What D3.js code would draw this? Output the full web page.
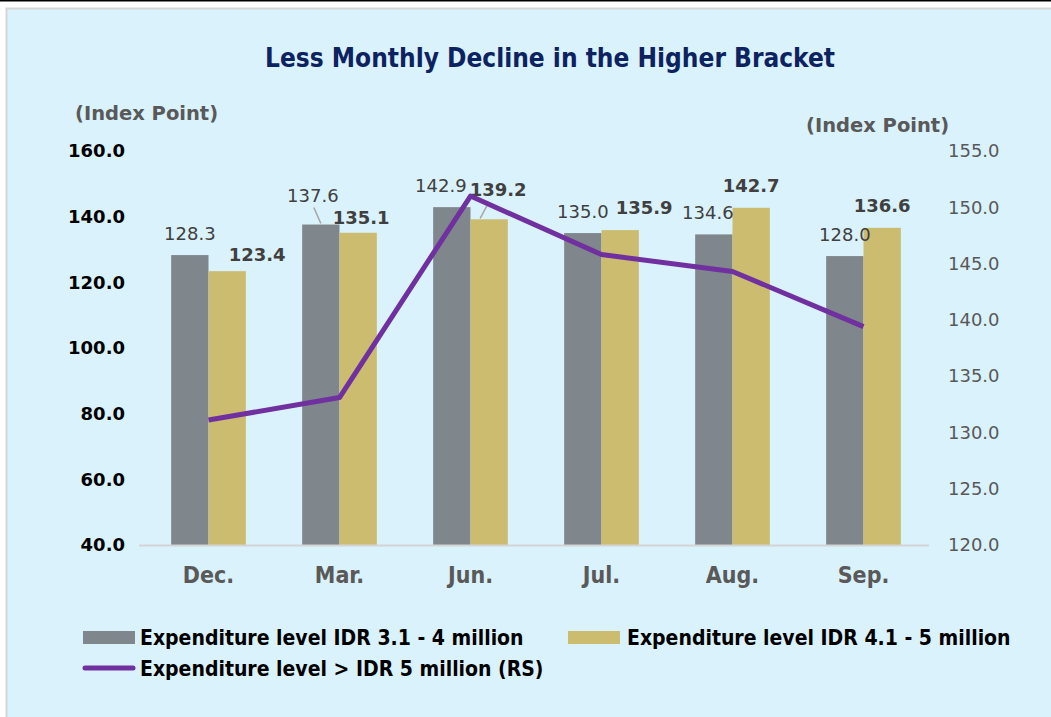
<!DOCTYPE html>
<html>
<head>
<meta charset="utf-8">
<script src="https://cdn.jsdelivr.net/npm/d3@7"></script>
<style>
  body { margin: 0; background: #fff; }
  text { font-family: "DejaVu Sans", Verdana, sans-serif; }
  .cond { font-family: "DejaVu Sans Condensed", "DejaVu Sans", sans-serif; font-stretch: condensed; }
</style>
</head>
<body>
<script>
// chart data
const months = ["Dec.", "Mar.", "Jun.", "Jul.", "Aug.", "Sep."];
const low = [128.3, 137.6, 142.9, 135.0, 134.6, 128.0];   // IDR 3.1 - 4 million
const mid = [123.4, 135.1, 139.2, 135.9, 142.7, 136.6];   // IDR 4.1 - 5 million
const high = [131.1, 133.1, 151.0, 145.8, 144.3, 139.4];  // > IDR 5 million (RS)
const leftTicks = [40, 60, 80, 100, 120, 140, 160];
const rightTicks = [120, 125, 130, 135, 140, 145, 150, 155];

// label nudges (dx, dy) copied from the manual placement in the original
const lowNudge = [[0, 0], [-8, -8], [-11, 0], [0, 0], [-6, 0], [0, 0]];
const midNudge = [[30, 6], [3, 7], [9, -7], [24, 0], [0, 0], [0, 0]];
const leaders = [false, true, false, false, false, false];
const midLeaders = [false, false, true, false, false, false];

const W = 1051, H = 717;
let margin = {top: 151, right: 122, bottom: 172, left: 143},
    width = W - margin.left - margin.right,
    height = H - margin.top - margin.bottom;

let svg = d3.select("body").append("svg")
    .attr("width", W)
    .attr("height", H);

// frame
svg.append("rect").attr("x", 0).attr("y", 0).attr("width", W).attr("height", 1.5).attr("fill", "#000");
svg.append("rect").attr("x", 6.5).attr("y", 8.5).attr("width", W).attr("height", H)
    .attr("fill", "#DAF2FC").attr("stroke", "#D6D6D6").attr("stroke-width", 2);

svg.append("text")
    .attr("class", "cond")
    .attr("x", 550).attr("y", 67)
    .attr("text-anchor", "middle")
    .attr("font-size", 26).attr("font-weight", "bold")
    .attr("fill", "#0D2260")
    .text("Less Monthly Decline in the Higher Bracket");

let g = svg.append("g").attr("transform", `translate(${margin.left},${margin.top})`);

let x0 = d3.scaleBand().domain(months).range([0, width]).paddingInner(0.43).paddingOuter(0.215);
let x1 = d3.scaleBand().domain(["low", "mid"]).range([0, x0.bandwidth()]);
let yL = d3.scaleLinear().domain([40, 160]).range([height, 0]);
let yR = d3.scaleLinear().domain([120, 155]).range([height, 0]);

// left axis
let axL = g.append("g").call(d3.axisLeft(yL).tickValues(leftTicks).tickFormat(d3.format(".1f")).tickSize(0).tickPadding(18));
axL.select(".domain").remove();
axL.selectAll("text").attr("font-size", 18).attr("font-weight", "bold").attr("fill", "#000")
    .attr("font-family", "DejaVu Sans, Verdana, sans-serif");

// right axis
let axR = g.append("g").attr("transform", `translate(${width},0)`)
    .call(d3.axisRight(yR).tickValues(rightTicks).tickFormat(d3.format(".1f")).tickSize(0).tickPadding(19));
axR.select(".domain").remove();
axR.selectAll("text").attr("font-size", 18).attr("fill", "#595959")
    .attr("font-family", "DejaVu Sans, Verdana, sans-serif");

// axis titles
svg.append("text").attr("x", 75).attr("y", 120).attr("font-size", 19.5).attr("font-weight", "bold")
    .attr("fill", "#595959").text("(Index Point)");
svg.append("text").attr("x", 806).attr("y", 132).attr("font-size", 19.5).attr("font-weight", "bold")
    .attr("fill", "#595959").text("(Index Point)");

// bars
let groups = g.selectAll(".grp").data(months).enter().append("g")
    .attr("transform", d => `translate(${x0(d)},0)`);

groups.append("rect")
    .attr("x", x1("low")).attr("width", x1.bandwidth())
    .attr("y", (d, i) => yL(low[i])).attr("height", (d, i) => height - yL(low[i]))
    .attr("fill", "#7F868C");
groups.append("rect")
    .attr("x", x1("mid")).attr("width", x1.bandwidth())
    .attr("y", (d, i) => yL(mid[i])).attr("height", (d, i) => height - yL(mid[i]))
    .attr("fill", "#CBBC6F");

// baseline
g.append("line").attr("x1", -4).attr("x2", width).attr("y1", height + 0.5).attr("y2", height + 0.5)
    .attr("stroke", "#D4D4D4").attr("stroke-width", 2);

// category labels
g.selectAll(".cat").data(months).enter().append("text")
    .attr("class", "cond")
    .attr("x", d => x0(d) + x0.bandwidth() / 2)
    .attr("y", height + 38)
    .attr("text-anchor", "middle")
    .attr("font-size", 23).attr("font-weight", "bold").attr("fill", "#595959")
    .text(d => d);

// leader lines
groups.filter((d, i) => leaders[i]).append("line")
    .attr("x1", (d) => x1("low") + x1.bandwidth() / 2 - 7)
    .attr("x2", (d) => x1("low") + x1.bandwidth() / 2)
    .attr("y1", d => yL(low[months.indexOf(d)]) - 17)
    .attr("y2", d => yL(low[months.indexOf(d)]) - 1)
    .attr("stroke", "#A6A6A6").attr("stroke-width", 1.5);
groups.filter((d, i) => midLeaders[i]).append("line")
    .attr("x1", (d) => x1("mid") + x1.bandwidth() / 2 - 9)
    .attr("x2", (d) => x1("mid") + x1.bandwidth() / 2 - 1)
    .attr("y1", d => yL(mid[months.indexOf(d)]) - 1)
    .attr("y2", d => yL(mid[months.indexOf(d)]) - 16)
    .attr("stroke", "#A6A6A6").attr("stroke-width", 1.5);

// line series
let line = d3.line()
    .x((d, i) => x0(months[i]) + x0.bandwidth() / 2)
    .y(d => yR(d));
g.append("path").datum(high)
    .attr("d", line)
    .attr("fill", "none").attr("stroke", "#7030A0").attr("stroke-width", 5)
    .attr("stroke-linejoin", "round");

// value labels
groups.append("text")
    .attr("x", (d, i) => x1("low") + x1.bandwidth() / 2 + lowNudge[i][0])
    .attr("y", (d, i) => yL(low[i]) - 15 + lowNudge[i][1])
    .attr("text-anchor", "middle")
    .attr("font-size", 18).attr("fill", "#404040")
    .text((d, i) => d3.format(".1f")(low[i]));
groups.append("text")
    .attr("x", (d, i) => x1("mid") + x1.bandwidth() / 2 + midNudge[i][0])
    .attr("y", (d, i) => yL(mid[i]) - 16 + midNudge[i][1])
    .attr("text-anchor", "middle")
    .attr("font-size", 18).attr("font-weight", "bold").attr("fill", "#404040")
    .text((d, i) => d3.format(".1f")(mid[i]));

// legend
let legend = svg.append("g");
legend.append("rect").attr("x", 83).attr("y", 631).attr("width", 52).attr("height", 13).attr("fill", "#7F868C");
legend.append("text").attr("class", "cond").attr("x", 140).attr("y", 645)
    .attr("font-size", 21).attr("font-weight", "bold").attr("fill", "#000")
    .text("Expenditure level IDR 3.1 - 4 million");
legend.append("rect").attr("x", 568).attr("y", 631).attr("width", 52).attr("height", 13).attr("fill", "#CBBC6F");
legend.append("text").attr("class", "cond").attr("x", 627).attr("y", 645)
    .attr("font-size", 21).attr("font-weight", "bold").attr("fill", "#000")
    .text("Expenditure level IDR 4.1 - 5 million");
legend.append("line").attr("x1", 85).attr("x2", 133).attr("y1", 668).attr("y2", 668)
    .attr("stroke", "#7030A0").attr("stroke-width", 5).attr("stroke-linecap", "round");
legend.append("text").attr("class", "cond").attr("x", 140).attr("y", 676)
    .attr("font-size", 21).attr("font-weight", "bold").attr("fill", "#000")
    .text("Expenditure level > IDR 5 million (RS)");
</script>
</body>
</html>
